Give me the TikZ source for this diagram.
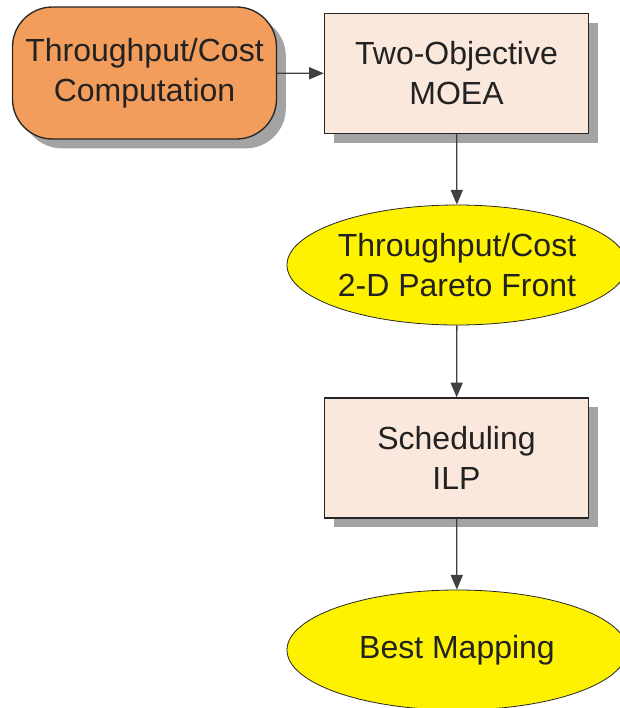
\documentclass[tikz,border=0pt]{standalone}
\usepackage{fontspec}
\setmainfont{Liberation Sans}
\usetikzlibrary{shapes.geometric,shadows,arrows.meta}

\definecolor{costfill}{HTML}{F39D5C}
\definecolor{stepfill}{HTML}{FBE8DC}
\definecolor{wire}{HTML}{404040}
\definecolor{ink}{HTML}{222222}

\begin{document}
\begin{tikzpicture}[x=0.75pt,y=-0.75pt,
    every node/.style={font=\fontsize{24}{30}\selectfont, text=ink, align=center},
    shade/.style={drop shadow={shadow xshift=7pt, shadow yshift=-7pt, fill=black!45, opacity=.8}},
    calcbox/.style={draw=black!85, line width=1pt, fill=costfill, rounded corners=30pt,
        minimum width=198pt, minimum height=99pt, shade},
    stagebox/.style={draw=black!85, line width=1pt, fill=stepfill,
        minimum width=198pt, minimum height=90pt, shade},
    result/.style={ellipse, draw=black!85, line width=0.6pt, fill=yellow,
        minimum width=255pt, minimum height=90pt, inner sep=0pt},
    flow/.style={draw=wire, line width=1pt, -{Triangle[length=11pt,width=9pt]}}]

    \useasboundingbox (0,0) rectangle (619,708);

    % Boxes
    \node[calcbox] (cost) at (144.5,73) {Throughput/Cost\\Computation};
    \node[stagebox] (moea) at (456.5,73.5) {Two-Objective\\MOEA};
    \node[result] (pareto) at (457,265) {Throughput/Cost\\2-D Pareto Front};
    \node[stagebox] (ilp) at (456.5,458) {Scheduling\\ILP};
    \node[result] (best) at (457,650) {Best Mapping};

    % Arrows
    \draw[flow] (cost) -- (moea);
    \draw[flow] (moea) -- (pareto);
    \draw[flow] (pareto) -- (ilp);
    \draw[flow] (ilp) -- (best);
\end{tikzpicture}
\end{document}
